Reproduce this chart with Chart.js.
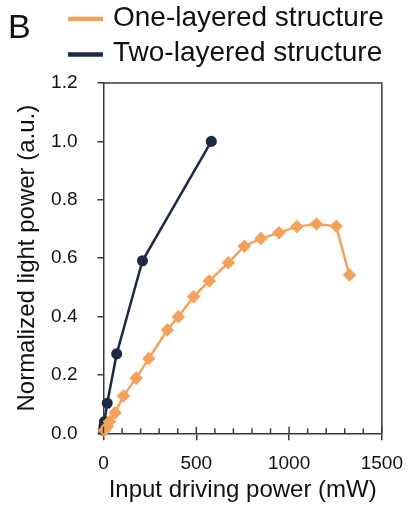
<!DOCTYPE html>
<html lang="en">
<head>
    <meta charset="UTF-8">
    <title>Light power vs driving power</title>
    <script src="https://cdn.jsdelivr.net/npm/chart.js"></script>
    <style>
        body { margin: 0; background: #fff; }
        #chart { display: block; }
    </style>
</head>
<body>
<canvas id="chart" width="415" height="510"></canvas>

<script>
    // data
    const oneLabel = 'One-layered structure';
    const oneX = [5, 20, 32, 62, 108, 176, 244, 344, 403, 486, 570, 673, 759, 848, 946, 1042, 1147, 1254, 1325];
    const oneY = [0.01, 0.023, 0.04, 0.07, 0.128, 0.189, 0.256, 0.354, 0.399, 0.468, 0.522, 0.584, 0.641, 0.667, 0.687, 0.708, 0.717, 0.709, 0.542];

    const twoLabel = 'Two-layered structure';
    const twoX = [0, 2, 5, 20, 71, 210, 581];
    const twoY = [0.01, 0.023, 0.04, 0.103, 0.272, 0.591, 1.0];

    const xTitle = 'Input driving power (mW)';
    const yTitle = 'Normalized light power (a.u.)';
    const panelLabel = 'B';

    const FONT = '"Liberation Sans", Arial, sans-serif';
    const ORANGE = '#F4A25B';
    const NAVY = '#1C2A45';
    const AXIS = '#3a3a3a';

    const toPoints = (xs, ys) => xs.map((x, i) => ({ x: x, y: ys[i] }));

    // box, minor ticks, legend and panel letter
    const extras = {
        id: 'extras',
        afterDraw(chart) {
            const ctx = chart.ctx;
            const area = chart.chartArea;
            const xs = chart.scales.x;
            ctx.save();
            ctx.strokeStyle = AXIS;
            ctx.lineWidth = 1.5;
            ctx.beginPath();
            ctx.moveTo(area.left, area.top);
            ctx.lineTo(area.right, area.top);
            ctx.lineTo(area.right, area.bottom);
            ctx.stroke();

            // minor ticks inside, majors poke in a bit too
            for (let v = 0; v <= 1500; v += 100) {
                const px = xs.getPixelForValue(v);
                const len = v % 500 === 0 ? 6.5 : 5;
                ctx.beginPath();
                ctx.moveTo(px, area.bottom);
                ctx.lineTo(px, area.bottom - len);
                ctx.stroke();
            }

            ctx.fillStyle = '#111';
            ctx.font = '34px ' + FONT;
            ctx.textBaseline = 'alphabetic';
            ctx.fillText(panelLabel, 8, 38);

            const items = chart.data.datasets;
            const rows = [19, 54.5];
            ctx.font = '28px ' + FONT;
            ctx.textBaseline = 'middle';
            items.forEach((ds, i) => {
                ctx.strokeStyle = ds.borderColor;
                ctx.lineWidth = 4.5;
                ctx.beginPath();
                ctx.moveTo(68, rows[i]);
                ctx.lineTo(103, rows[i]);
                ctx.stroke();
                ctx.fillText(ds.label, 113, rows[i] - 1);
            });
            ctx.restore();
        }
    };

    new Chart(document.getElementById('chart'), {
        type: 'scatter',
        data: {
            datasets: [{
                label: oneLabel,
                data: toPoints(oneX, oneY),
                showLine: true,
                borderColor: ORANGE,
                backgroundColor: ORANGE,
                borderWidth: 2.5,
                pointStyle: 'rectRot',
                pointRadius: 5,
                clip: false
            }, {
                label: twoLabel,
                data: toPoints(twoX, twoY),
                showLine: true,
                borderColor: NAVY,
                backgroundColor: NAVY,
                borderWidth: 2.5,
                pointStyle: 'circle',
                pointRadius: 4.3,
                clip: false
            }]
        },
        options: {
            responsive: false,
            animation: false,
            layout: { padding: { top: 83, right: 30, left: 0, bottom: 0 } },
            plugins: {
                legend: { display: false },
                tooltip: { enabled: false }
            },
            scales: {
                x: {
                    type: 'linear',
                    min: 0,
                    max: 1500,
                    afterFit(scale) { scale.height = 76.7; },
                    ticks: {
                        stepSize: 500,
                        color: '#111',
                        font: { family: FONT, size: 19 },
                        padding: 12,
                        maxRotation: 0,
                        callback: v => String(v)
                    },
                    grid: { drawOnChartArea: false, tickLength: 7, color: AXIS, lineWidth: 1.5 },
                    border: { color: AXIS, width: 1.5 },
                    title: {
                        display: true,
                        text: xTitle,
                        color: '#111',
                        font: { family: FONT, size: 24 },
                        padding: { top: 0, bottom: 5 }
                    }
                },
                y: {
                    min: 0,
                    max: 1.2,
                    afterFit(scale) { scale.width = 103.5; },
                    ticks: {
                        stepSize: 0.2,
                        color: '#111',
                        font: { family: FONT, size: 19 },
                        padding: 20,
                        callback: v => v.toFixed(1)
                    },
                    grid: { drawOnChartArea: false, tickLength: 6, color: AXIS, lineWidth: 1.5 },
                    border: { color: AXIS, width: 1.5 },
                    title: {
                        display: true,
                        text: yTitle,
                        color: '#111',
                        font: { family: FONT, size: 24 },
                        padding: { top: 12.6, bottom: 0 }
                    }
                }
            }
        },
        plugins: [extras]
    });
</script>
</body>
</html>
